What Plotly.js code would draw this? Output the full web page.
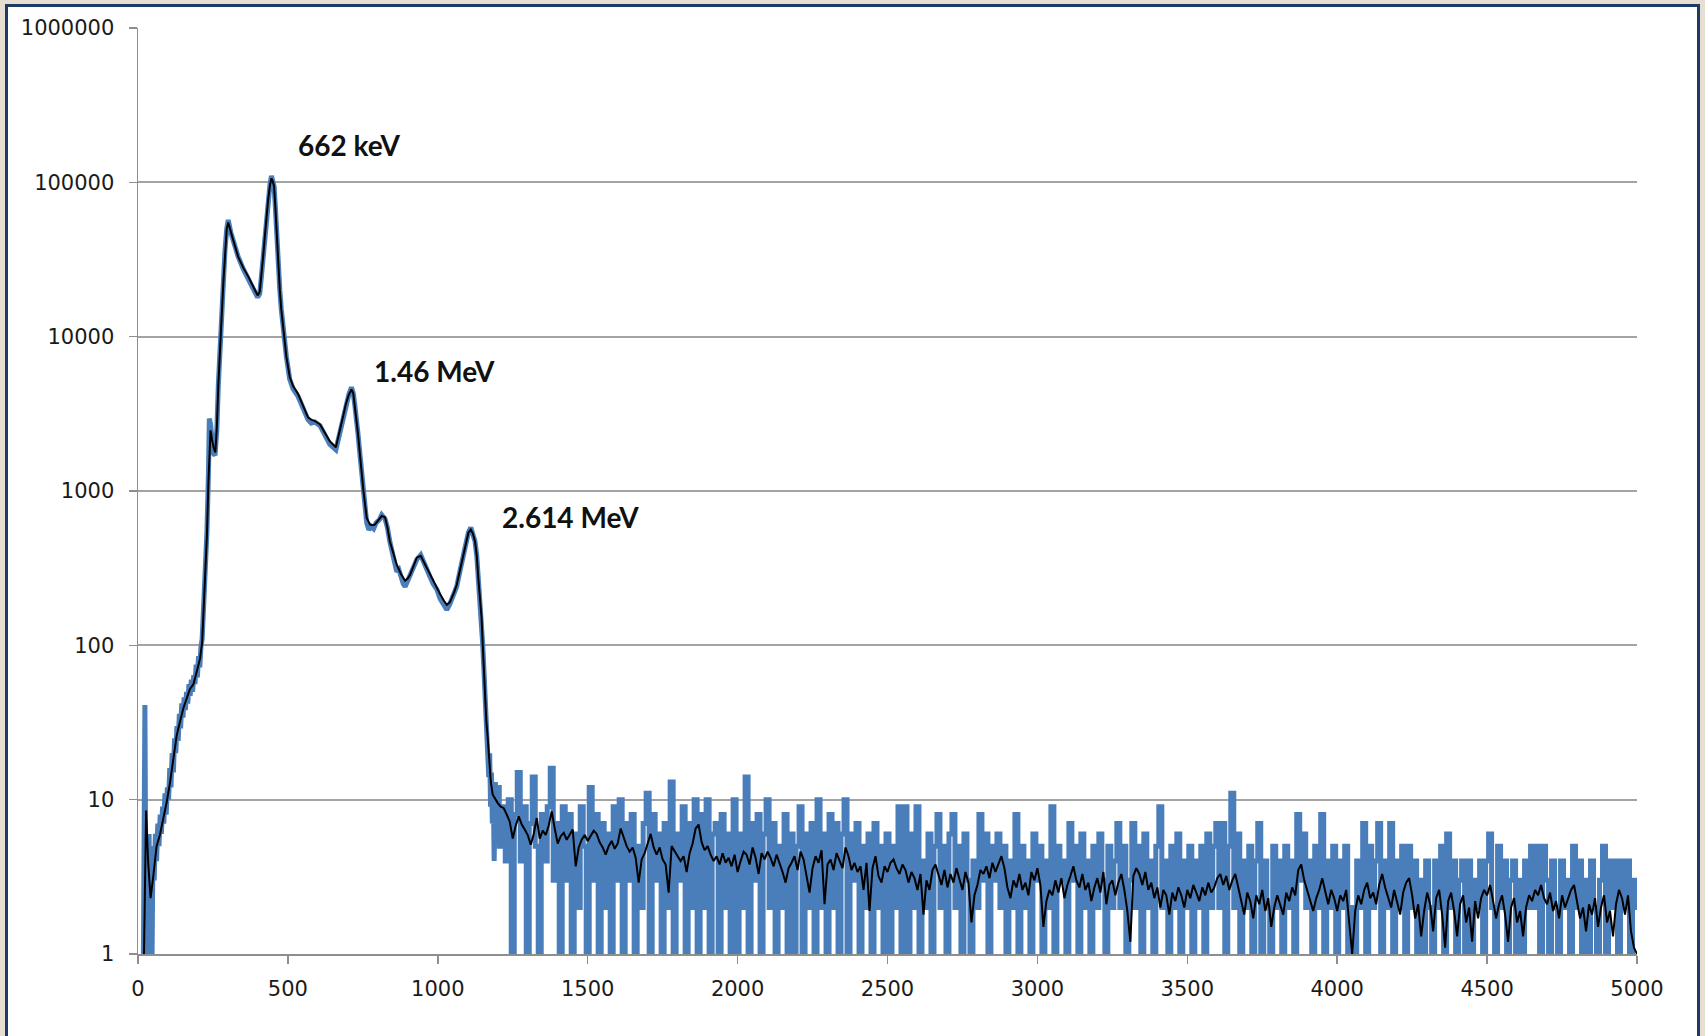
<!DOCTYPE html>
<html>
<head>
<meta charset="utf-8">
<script src="https://cdn.plot.ly/plotly-3.0.1.min.js"></script>
<style>
  html, body { margin:0; padding:0; width:1705px; height:1036px; overflow:hidden; background:#e6dfd1; }
  #frame { position:absolute; left:5px; top:4px; width:1695px; height:1060px; box-sizing:border-box;
           border:3px solid #1d3a63; border-bottom:none; background:#ffffff; }
  #chart { position:absolute; left:0; top:0; width:1689px; height:1029px; }
</style>
</head>
<body>
<div id="frame"><div id="chart"></div></div>
<script>
// ---------- DATA ----------
// Low-energy region, smoothed spectrum (black)
const blackLowX = [20,27,34,42,51,62,73,85,96,107,118,129,140,151,162,173,185,196,207,214,220,226,230,235,239,242,247,252,258,263,268,273,279,285,290,296,301,310,318,334,351,368,384,399,406,412,418,423,428,434,440,445,450,454,458,462,467,473,478,484,490,495,506,517,534,551,567,578,590,607,623,640,660,668,675,685,693,703,712,718,723,729,734,740,745,752,758,763,774,782,790,800,813,824,832,840,852,863,877,891,900,908,920,930,943,952,963,975,985,997,1008,1020,1030,1040,1047,1055,1063,1075,1085,1094,1102,1110,1117,1124,1130,1135,1141,1146,1150,1154,1158,1162,1166,1172,1177,1183,1190];
const blackLowY = [1,8.5,3.9,2.3,3.2,5.0,5.9,7.5,9.7,13,18.5,26,32,39,45,52,56,67,82,105,190,330,520,1150,2000,2470,2150,1920,1780,2600,4900,8500,13400,23000,36000,50000,55000,47000,42000,33000,28000,24500,21000,18500,19500,25000,34000,44500,60000,77000,95000,106000,101000,94000,70000,47000,31000,20000,15000,11500,9000,7400,5500,4800,4250,3500,3000,2900,2840,2700,2390,2100,1920,2200,2560,3100,3640,4200,4550,4300,3630,3000,2330,1750,1350,1000,800,670,605,600,605,640,690,676,580,473,390,333,290,262,272,288,330,370,380,350,316,285,262,236,214,195,183,190,203,222,246,310,390,460,537,563,530,473,380,275,200,151,100,68,43,32,26,18,13,10.8,10.2];

// Low-energy region, raw counts (blue)
const blueLowX = [18,20,23,25,28,31,34,37,40,44,47,50,54,58,62,66,70,74,78,82,86,90,94,98,102,106,110,114,118,122,126,130,134,138,142,146,150,154,158,162,166,170,174,178,182,186,190,194,198,202,206,210,214,220,226,230,235,238,242,247,252,257,263,268,273,279,285,290,296,301,310,318,334,351,368,384,399,406,412,418,423,428,434,440,445,450,454,458,462,467,473,478,484,490,495,506,517,534,551,567,578,590,607,623,640,660,668,675,685,693,703,712,718,723,729,734,740,745,752,758,763,770,778,786,794,805,813,824,832,840,852,863,870,877,885,891,900,908,920,930,943,952,963,975,985,997,1008,1020,1030,1040,1047,1055,1063,1075,1085,1094,1102,1110,1117,1124,1130,1135,1141,1146,1150,1154,1158,1162,1166,1170,1173,1176,1179,1182,1185,1188,1192,1196];
const blueLowY = [1,6,41,7,1,5,2,6,1,4,1,5,3,6,4,7,5,8,6,9,7,11,8,12,10,16,12,20,15,25,20,30,24,36,29,42,34,46,38,50,42,56,47,60,50,64,56,75,62,85,72,98,110,200,350,550,1300,2950,2700,2000,1750,1700,2500,4900,8500,13400,23000,36000,50000,57000,47000,41000,33000,27500,24000,20500,18000,19000,25000,34000,44500,60000,77000,96000,110000,101000,94000,70000,47000,31000,20000,15000,11500,9000,7400,5300,4600,4100,3400,2900,2750,2800,2650,2300,2000,1850,2150,2560,3100,3640,4200,4700,4300,3630,3000,2330,1750,1350,1000,780,620,560,590,570,620,650,700,660,580,470,370,300,310,270,250,240,265,290,320,360,385,345,310,275,250,230,200,185,170,185,200,215,240,310,390,460,537,580,530,473,380,275,200,150,100,68,45,33,26,14,20,9,15,7,12,4,13,5];

// High-energy tail: channels from TAIL_START in steps of TAIL_STEP
const TAIL_START = 1200, TAIL_STEP = 10;
const blackTail = [
  9.5,9.0,8.8,8.0,7.2,5.6,6.8,7.8,6.9,6.4,
  5.9,5.1,6.0,7.6,5.6,6.3,5.9,6.8,8.4,6.5,
  5.2,5.8,6.1,5.5,6.0,6.4,3.7,4.9,5.5,5.9,
  5.4,5.8,6.3,6.0,5.3,4.9,4.4,5.0,5.4,4.8,
  5.2,6.5,5.6,5.0,4.6,4.9,4.2,2.9,4.1,4.5,
  5.2,6.0,4.9,4.4,4.9,4.1,3.8,2.5,5.0,4.6,
  4.3,4.0,4.3,3.4,4.5,5.2,6.5,6.9,5.3,4.7,
  5.0,4.4,4.0,4.3,3.8,4.5,3.9,4.2,3.7,4.4,
  3.4,4.0,4.6,4.4,3.8,4.9,4.2,3.3,4.5,4.1,
  4.6,4.2,3.7,4.4,3.9,3.4,2.9,3.6,3.9,4.3,
  3.5,4.6,4.1,3.2,2.5,3.6,4.3,3.9,4.7,2.1,
  3.8,4.1,3.5,4.5,4.0,3.6,4.9,4.3,3.5,3.9,
  3.4,3.7,2.6,3.9,1.9,3.6,4.3,3.2,2.9,3.7,
  3.4,3.9,4.1,3.6,3.3,3.8,3.5,2.9,3.4,3.1,
  2.6,3.3,1.8,3.0,2.6,3.5,3.8,3.2,2.8,3.5,
  2.7,3.3,2.9,3.6,3.1,2.6,3.4,2.9,1.6,2.4,
  2.8,3.5,3.3,3.7,3.1,3.9,3.4,3.8,4.3,3.6,
  2.7,2.3,3.0,2.7,3.3,2.6,2.9,2.4,3.4,3.0,
  3.6,2.8,1.5,2.2,2.6,2.4,3.0,2.5,3.1,2.3,
  2.8,3.2,3.7,3.0,2.7,3.3,2.6,2.9,2.2,2.7,
  3.1,2.5,3.4,2.1,2.8,3.0,2.4,2.9,3.3,2.6,
  1.9,1.2,3.2,3.6,3.3,2.8,3.4,2.6,2.9,2.3,
  2.7,2.0,2.6,2.4,1.8,2.5,2.2,2.7,2.4,2.0,
  2.6,2.3,2.8,2.5,2.2,2.7,2.4,2.9,2.5,2.7,
  3.1,3.3,2.8,3.2,2.6,3.0,3.3,2.7,2.2,1.8,
  2.5,2.2,1.7,2.4,2.1,2.6,1.9,2.3,1.5,2.0,
  2.4,2.1,1.8,2.5,2.2,2.7,2.4,3.5,3.8,3.0,
  2.6,2.2,1.9,2.3,2.6,3.1,2.5,2.1,2.6,2.3,
  1.9,2.4,2.2,2.6,1.6,1.0,1.9,2.4,2.1,2.6,
  2.9,2.3,2.5,2.1,2.8,3.3,2.7,2.3,2.0,2.6,
  2.2,1.8,2.5,2.9,3.1,2.4,1.7,2.1,1.3,1.9,
  2.5,2.1,1.4,2.3,2.6,1.8,1.1,2.2,2.5,1.9,
  1.3,2.1,2.4,1.6,2.0,1.2,2.2,1.7,2.3,2.6,
  2.4,2.8,2.2,1.7,2.1,2.4,1.8,1.2,2.0,2.3,
  1.6,1.9,1.3,2.0,2.4,2.2,2.6,2.4,2.8,2.3,
  2.1,2.5,1.9,2.2,1.7,2.4,2.0,2.3,2.6,2.8,
  2.2,1.7,2.0,1.4,2.1,1.8,2.3,1.5,2.0,2.4,
  1.6,1.9,1.3,2.1,2.6,2.3,1.8,2.4,1.4,1.1,
  1.0
];
const blueTail = [
  12,5,9,4,10,1,8,15,4,9,
  1,7,14,5,1,8,4,9,16,3,
  7,1,9,3,8,1,6,2,9,5,
  1,12,3,8,1,7,2,6,1,9,
  3,10,1,7,3,8,1,5,2,7,
  11,1,8,3,6,1,7,2,13,1,
  6,3,9,1,7,2,10,1,8,2,
  10,1,6,7,1,8,2,6,1,10,
  1,6,2,14,1,7,3,8,1,6,
  10,2,7,1,5,2,8,1,6,1,
  5,9,1,6,2,7,1,10,2,6,
  1,8,2,7,1,6,10,1,6,3,
  7,1,5,2,6,1,7,2,5,1,
  6,1,5,2,9,1,9,1,6,2,
  9,1,4,2,6,1,5,8,2,5,
  1,6,8,2,5,1,6,3,1,4,
  2,8,3,6,1,5,3,6,2,5,
  1,4,2,8,1,5,2,4,1,6,
  3,5,1,4,2,9,1,5,3,4,
  1,7,3,5,1,6,2,4,1,5,
  2,6,3,1,5,2,4,7,2,5,
  1,3,7,2,5,1,6,2,4,1,
  5,9,2,4,1,5,2,6,1,4,
  2,5,1,4,2,5,1,6,2,5,
  7,2,7,1,5,11,2,6,1,4,
  2,5,1,4,7,1,4,2,1,5,
  2,4,1,5,2,4,1,8,3,6,
  2,4,1,5,2,8,1,4,2,5,
  1,4,2,5,1,2,1,4,2,7,
  1,5,2,4,7,1,4,2,7,1,
  4,2,5,1,5,2,4,1,3,1,
  4,2,1,4,2,5,1,6,2,4,
  1,3,4,1,4,1,3,2,4,1,
  4,6,2,1,5,2,4,1,3,4,
  1,3,1,4,2,5,2,5,1,5,
  3,1,4,2,1,4,2,3,1,5,
  2,4,1,3,1,4,2,1,3,5,
  1,4,2,4,1,4,2,4,1,3,
  2
];

const xTickVals = [0,500,1000,1500,2000,2500,3000,3500,4000,4500,5000];
const xTickText = ['0','500','1000','1500','2000','2500','3000','3500','4000','4500','5000'];
const yTickVals = [1,10,100,1000,10000,100000,1000000];
const yTickText = ['1','10','100','1000','10000','100000','1000000'];

const peakLabels = ['662 keV','1.46 MeV','2.614 MeV'];
const peakLabelX = [707, 989, 1441];
const peakLabelY = [175000, 6000, 678];

// ---------- BUILD ----------
const tailX = blueTail.map((_, i) => TAIL_START + i * TAIL_STEP);
const blackX = blackLowX.concat(tailX);
const blackY = blackLowY.concat(blackTail);
const blue = '#4a7ebb';

const traces = [
  { x: blueLowX, y: blueLowY, type: 'scatter', mode: 'lines',
    line: { color: blue, width: 5, shape: 'linear' }, hoverinfo: 'skip' },
  { x: [blueLowX[blueLowX.length - 1]].concat(tailX), y: [blueLowY[blueLowY.length - 1]].concat(blueTail),
    type: 'scatter', mode: 'lines',
    line: { color: blue, width: 5, shape: 'hvh' }, hoverinfo: 'skip' },
  { x: blackX, y: blackY, type: 'scatter', mode: 'lines',
    line: { color: '#000000', width: 2 }, hoverinfo: 'skip' }
];

const axisColor = '#8e8e8e';
const layout = {
  width: 1689, height: 1029,
  margin: { l: 130, r: 60, t: 21, b: 82, pad: 0 },
  paper_bgcolor: '#ffffff', plot_bgcolor: '#ffffff',
  showlegend: false,
  font: { family: 'DejaVu Sans, sans-serif', size: 21, color: '#1a1a1a' },
  xaxis: {
    range: [0, 5000], tickmode: 'array', tickvals: xTickVals, ticktext: xTickText,
    ticks: 'outside', ticklen: 8, tickwidth: 1.5, tickcolor: axisColor,
    showline: true, linecolor: axisColor, linewidth: 1.5,
    showgrid: false, zeroline: false, ticklabelstandoff: 7,
    tickfont: { family: 'DejaVu Sans, sans-serif', size: 21, color: '#1a1a1a' }
  },
  yaxis: {
    type: 'log', range: [0, 6], tickmode: 'array', tickvals: yTickVals, ticktext: yTickText,
    ticks: 'outside', ticklen: 8, tickwidth: 1.5, tickcolor: axisColor,
    showline: true, linecolor: axisColor, linewidth: 1.5,
    showgrid: true, gridcolor: '#a3a3a3', gridwidth: 2, zeroline: false,
    ticklabelstandoff: 10,
    tickfont: { family: 'DejaVu Sans, sans-serif', size: 21, color: '#1a1a1a' }
  },
  annotations: peakLabels.map((t, i) => ({
    text: t, x: peakLabelX[i], y: Math.log10(peakLabelY[i]), xref: 'x', yref: 'y',
    showarrow: false, xanchor: 'center', yanchor: 'middle',
    font: { family: 'Lato, sans-serif', size: 28, weight: 700, color: '#111111' }
  }))
};

Plotly.newPlot('chart', traces, layout, { staticPlot: true, displayModeBar: false });
</script>
</body>
</html>
